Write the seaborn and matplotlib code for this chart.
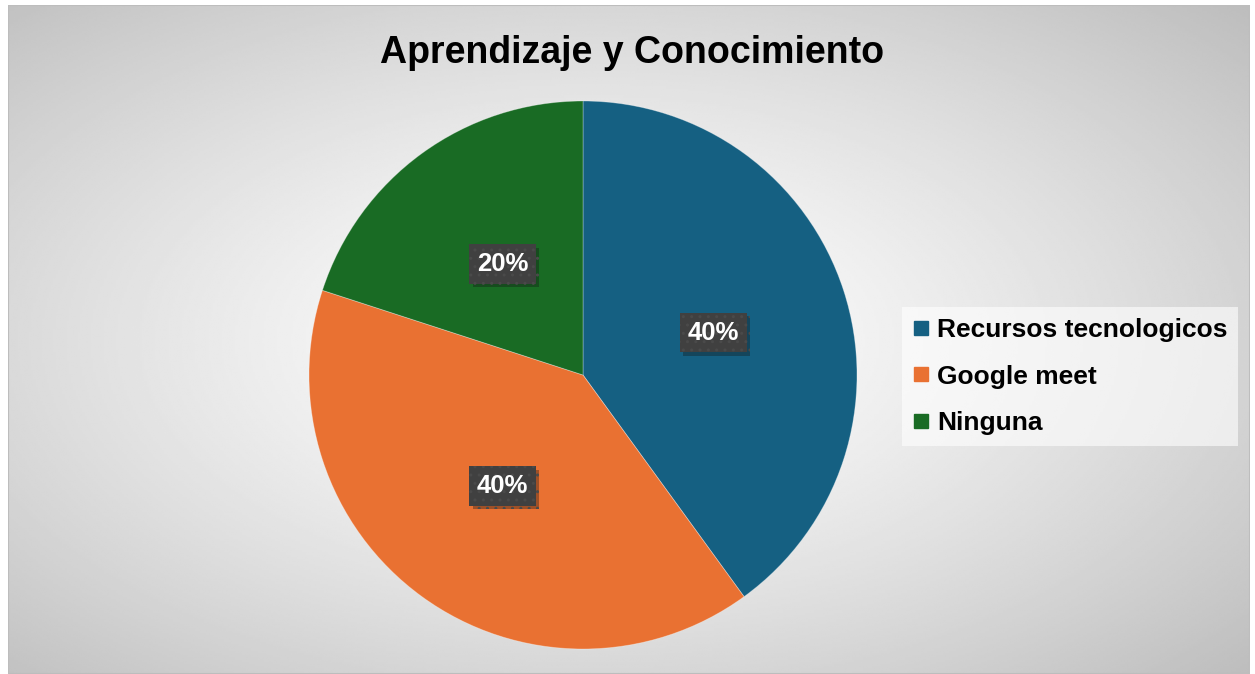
import matplotlib
matplotlib.use("Agg")
import matplotlib.pyplot as plt
import matplotlib.patheffects as pe
from matplotlib.lines import Line2D
import numpy as np
import seaborn as sns

# Data
categories = ['Recursos tecnologicos', 'Google meet', 'Ninguna']
values = [40, 40, 20]
colors = ['#156082', '#E97132', '#196B24']
title = 'Aprendizaje y Conocimiento'

sns.set_style('white')
plt.rcParams['font.family'] = ['Liberation Sans', 'DejaVu Sans']

W, H = 1255, 674
fig = plt.figure(figsize=(W / 100, H / 100), dpi=100)
fig.patch.set_facecolor('white')

# radial gradient background of the chart area
bg = fig.add_axes([8 / W, 0, (1250 - 8) / W, (H - 5) / H])
ny, nx = 300, 560
yy, xx = np.mgrid[0:ny, 0:nx]
cx, cy = nx * 0.47, ny * 0.5
d = np.sqrt(((xx - cx) / (nx / 2)) ** 2 + ((yy - cy) / (ny / 2)) ** 2) / np.sqrt(2)
shade = 1 - 0.25 * np.clip(d, 0, 1.1) ** 1.3
bg.imshow(shade, cmap='gray', vmin=0, vmax=1, aspect='auto', interpolation='bilinear')
bg.set_axis_off()
border = plt.Rectangle((0, 0), 1, 1, transform=bg.transAxes, fill=False,
                       edgecolor='#bdbdbd', linewidth=1.5)
bg.add_patch(border)

# pie
cxp, cyp, r = 583, 375, 274
ax = fig.add_axes([(cxp - r) / W, (H - cyp - r) / H, 2 * r / W, 2 * r / H])
wedges, texts, autotexts = ax.pie(
    values, colors=colors, startangle=90, counterclock=False, radius=1,
    autopct='%1.0f%%', pctdistance=0.5,
    wedgeprops=dict(edgecolor=(1, 1, 1, 0.35), linewidth=0.6),
    textprops=dict(color='white', fontsize=18.5, fontweight='bold'))
ax.set_xlim(-1, 1)
ax.set_ylim(-1, 1)
ax.set_axis_off()

for t in autotexts:
    t.set_bbox(dict(boxstyle='square,pad=0.3', facecolor='#404040',
                    edgecolor='#4a4a4a', linewidth=0, hatch='..'))
    t.get_bbox_patch().set_path_effects(
        [pe.SimplePatchShadow(offset=(2.5, -2.5), alpha=0.35), pe.Normal()])

fig.text(632 / W, 1 - 63 / H, title, ha='center', va='baseline',
         fontsize=27, fontweight='bold', color='black')

handles = [Line2D([], [], marker='s', linestyle='none', markersize=10,
                  markerfacecolor=c, markeredgecolor=c) for c in colors]
leg = fig.legend(handles, categories, loc='upper left',
                 bbox_to_anchor=(902 / W, 1 - 307 / H), borderaxespad=0,
                 frameon=True, fancybox=False, handlelength=0.6,
                 handletextpad=0.3, labelspacing=0.85, borderpad=0.42,
                 labelcolor='black', prop=dict(size=19, weight='bold'))
frame = leg.get_frame()
frame.set_facecolor('white')
frame.set_alpha(0.6)
frame.set_edgecolor('none')

fig.savefig('out.png', dpi=100)
